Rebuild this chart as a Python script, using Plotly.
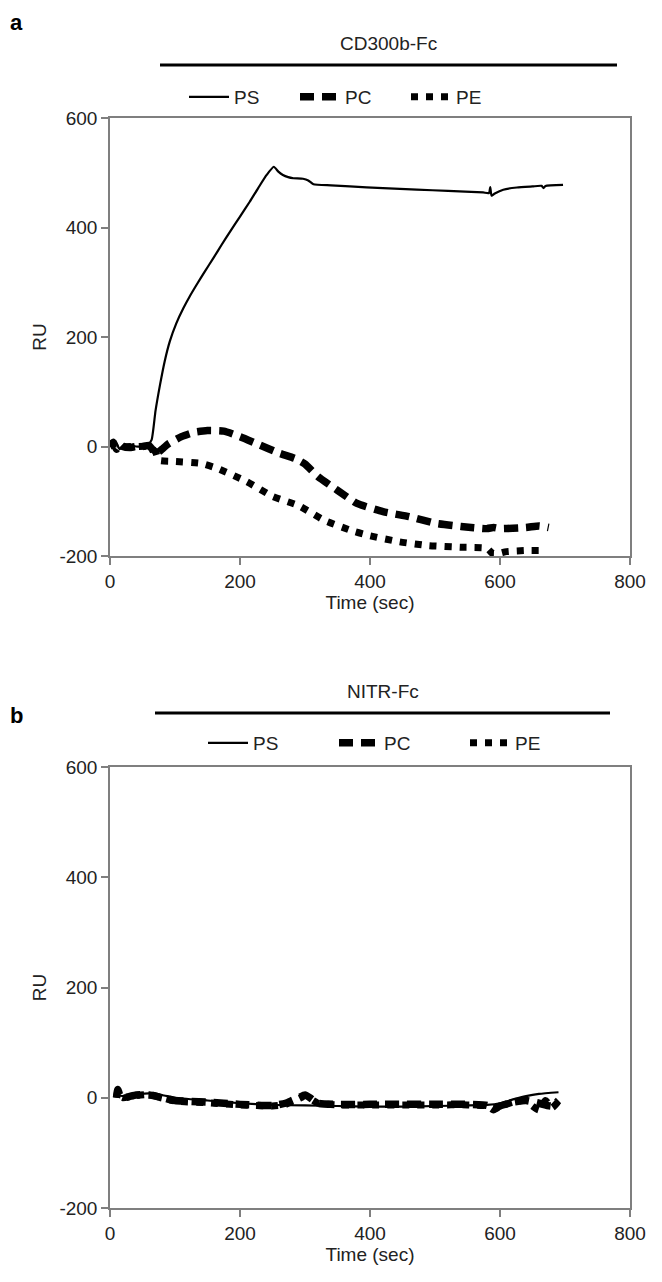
import plotly.graph_objects as go
from plotly.subplots import make_subplots

# ---------------- Panel a (CD300b-Fc) ----------------
t_ps_a = [0, 5, 10, 15, 20, 30, 40, 50, 58, 64, 70, 77, 84, 92, 102, 113, 123, 133, 146, 159, 172,
          185, 200, 215, 228, 241, 252, 259, 266, 274, 282, 297, 305, 313, 340, 369, 420, 472, 520,
          574, 583, 585, 587, 592, 605, 626, 650, 664, 667, 670, 697]
ps_a = [0, 10, 5, -5, 0, 2, 0, 0, 3, 12, 65, 113, 155, 192, 225, 253, 275, 295, 320, 344, 369,
        393, 420, 447, 472, 496, 511, 502, 496, 492, 490, 489, 486, 479, 477, 475, 472, 469, 467,
        464, 463, 474, 458, 462, 469, 473, 475, 476, 472, 476, 478]

t_pc_a = [0, 5, 10, 15, 20, 30, 40, 50, 60, 65, 70, 75, 80, 90, 110, 130, 150, 175, 200, 230,
          260, 285, 300, 320, 350, 380, 420, 460, 500, 540, 580, 590, 600, 640, 660, 675]
pc_a = [0, 8, -5, 5, 0, -2, 0, 0, 2, -5, -15, -10, -5, 5, 18, 26, 29, 28, 18, 3,
        -12, -22, -32, -55, -80, -104, -119, -128, -140, -146, -150, -148, -150, -148, -145, -148]

t_pe_a = [0, 10, 20, 40, 60, 70, 75, 95, 140, 165, 210, 250, 290, 330, 375, 400, 445, 490,
          540, 580, 590, 610, 640, 670]
pe_a = [0, 5, 0, 0, 0, -10, -25, -27, -31, -40, -64, -91, -108, -135, -155, -163, -174, -181,
        -184, -186, -197, -192, -190, -190]

# ---------------- Panel b (NITR-Fc) ----------------
t_ps_b = [10, 20, 40, 60, 80, 100, 150, 200, 250, 300, 350, 400, 450, 500, 550, 580, 600, 620,
          640, 660, 690]
ps_b = [5, 3, 6, 8, 5, 0, -5, -10, -13, -14, -15, -16, -16, -15, -14, -13, -10, -3, 3, 7, 10]

t_pc_b = [10, 12, 15, 20, 40, 60, 70, 80, 100, 150, 200, 250, 270, 280, 290, 300, 310, 320, 350,
          400, 450, 500, 550, 580, 590, 600, 620, 640, 660, 680, 690]
pc_b = [0, 15, 5, 0, 5, 5, 3, 0, -5, -8, -12, -14, -10, -5, 0, 5, -2, -10, -12,
        -12, -12, -12, -12, -14, -20, -15, -8, -5, -10, -15, -5]

t_pe_b = [10, 12, 15, 20, 40, 60, 80, 100, 150, 200, 250, 270, 290, 300, 320, 350, 400, 450, 500,
          550, 580, 590, 600, 620, 640, 650, 660, 670, 680, 690]
pe_b = [0, 12, 3, 0, 4, 6, 0, -6, -9, -13, -15, -12, -2, 3, -10, -13, -13, -13, -13,
        -13, -15, -22, -16, -8, -5, -15, -22, -5, -18, -6]

x_ticks = [0, 200, 400, 600, 800]
y_ticks = [-200, 0, 200, 400, 600]
y_tick_labels = ["-200", "0", "200", "400", "600"]
series_names = ["PS", "PC", "PE"]
panel_titles = ["CD300b-Fc", "NITR-Fc"]
panel_letters = ["a", "b"]

# page body adds an 8px margin; figure is sized to fit the 662x1282 window
OFF = 8
W, H = 662 - OFF, 1282 - OFF
FONT = "Liberation Sans, Arial, Helvetica, sans-serif"


def px(pix):
    return (pix - OFF) / W


def py(pix):
    return 1 - (pix - OFF) / H


fig = make_subplots(rows=2, cols=1)

styles = {
    "PS": dict(width=2.2, dash="solid"),
    "PC": dict(width=7.5, dash="14px,8px"),
    "PE": dict(width=7, dash="7px,8px"),
}

panels = [
    (1, "legend", [(t_ps_a, ps_a), (t_pc_a, pc_a), (t_pe_a, pe_a)]),
    (2, "legend2", [(t_ps_b, ps_b), (t_pc_b, pc_b), (t_pe_b, pe_b)]),
]
for row, leg, data in panels:
    for name, (tx, ty) in zip(series_names, data):
        fig.add_trace(go.Scatter(x=tx, y=ty, mode="lines", name=name, legend=leg,
                                 line=dict(color="black", shape="spline", smoothing=0.5,
                                           **styles[name])),
                      row=row, col=1)

tickfont = dict(family=FONT, size=19, color="#222")
axis_common = dict(showline=True, mirror=True, linecolor="#7f7f7f", linewidth=1.5,
                   ticks="outside", ticklen=7, tickcolor="#7f7f7f", tickwidth=1.5,
                   showgrid=False, zeroline=False, tickfont=tickfont)
xtitle = dict(text="Time (sec)", font=tickfont, standoff=2)
ytitle = dict(text="RU", font=tickfont, standoff=8)

xd = [px(110), px(630)]
fig.update_layout(
    xaxis=dict(domain=xd, range=[0, 800], tickvals=x_ticks, anchor="y", title=xtitle, **axis_common),
    yaxis=dict(domain=[py(556), py(118)], range=[-200, 600], tickvals=y_ticks,
               ticktext=y_tick_labels, anchor="x", title=ytitle, **axis_common),
    xaxis2=dict(domain=xd, range=[0, 800], tickvals=x_ticks, anchor="y2", title=xtitle, **axis_common),
    yaxis2=dict(domain=[py(1208), py(767)], range=[-200, 600], tickvals=y_ticks,
                ticktext=y_tick_labels, anchor="x2", title=ytitle, **axis_common),
)

fig.update_layout(
    width=W, height=H, margin=dict(l=0, r=0, t=0, b=0, autoexpand=False),
    paper_bgcolor="white", plot_bgcolor="white",
    font=dict(family=FONT, color="#222"),
    legend=dict(orientation="h", x=px(184), y=py(97), xanchor="left", yanchor="middle",
                entrywidth=56, entrywidthmode="pixels", font=dict(family=FONT, size=19),
                bgcolor="rgba(0,0,0,0)", itemwidth=40),
    legend2=dict(orientation="h", x=px(203), y=py(743), xanchor="left", yanchor="middle",
                 entrywidth=76, entrywidthmode="pixels", font=dict(family=FONT, size=19),
                 bgcolor="rgba(0,0,0,0)", itemwidth=40),
    showlegend=True,
)

# Header titles, bars and panel letters (letter given by its top edge)
headers = [(43, 65, 160, 617, 8), (691, 713, 155, 610, 701)]
for (ty, ly, x0, x1, lety), title, letter in zip(headers, panel_titles, panel_letters):
    fig.add_annotation(text=title, xref="paper", yref="paper", x=px((x0 + x1) / 2), y=py(ty),
                       xanchor="center", yanchor="middle",
                       showarrow=False, font=dict(family=FONT, size=19, color="#222"))
    fig.add_shape(type="line", xref="paper", yref="paper", x0=px(x0), x1=px(x1),
                  y0=py(ly), y1=py(ly), line=dict(color="black", width=3))
    fig.add_annotation(text=f"<b>{letter}</b>", xref="paper", yref="paper", x=px(16), y=py(lety),
                       xanchor="center", yanchor="top",
                       showarrow=False, font=dict(family=FONT, size=22, color="black"))

fig.write_html("out.html")
